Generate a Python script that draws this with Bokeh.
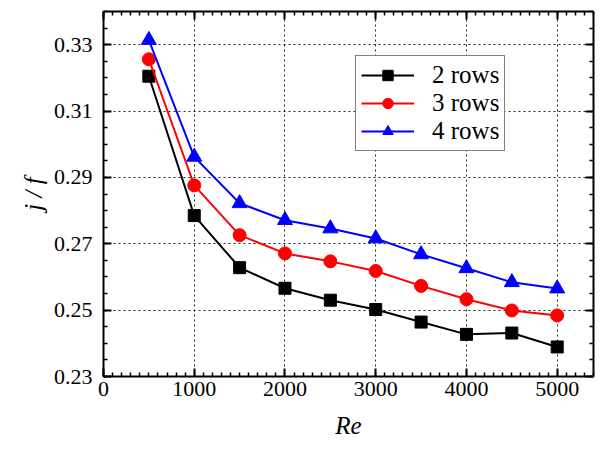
from bokeh.plotting import figure
from bokeh.models import LinearAxis, Range1d, FixedTicker, Legend, PrintfTickFormatter
from bokeh.embed import file_html
from bokeh.resources import INLINE

re_vals = [500, 1000, 1500, 2000, 2500, 3000, 3500, 4000, 4500, 5000]
rows2 = [0.3205, 0.2785, 0.2628, 0.2566, 0.2530, 0.2502, 0.2464, 0.2427, 0.2431, 0.2389]
rows3 = [0.3256, 0.2876, 0.2726, 0.2671, 0.2647, 0.2618, 0.2573, 0.2533, 0.2499, 0.2484]
rows4 = [0.3314, 0.2962, 0.2822, 0.2771, 0.2746, 0.2716, 0.2668, 0.2626, 0.2584, 0.2565]
x_ticks = [0, 1000, 2000, 3000, 4000, 5000]
x_minor = [100 * i for i in range(55)]
y_ticks = [0.23, 0.25, 0.27, 0.29, 0.31, 0.33]
y_minor = [round(0.23 + 0.005 * i, 3) for i in range(23)]

FONT = "Liberation Serif"

p = figure(width=595, height=445, output_backend="svg", toolbar_location=None,
           x_range=Range1d(0, 5400), y_range=Range1d(0.23, 0.34),
           min_border_left=103, min_border_right=2, min_border_top=11, min_border_bottom=69)
p.background_fill_color = "white"
p.border_fill_color = "white"
p.outline_line_color = None

p.xaxis.ticker = FixedTicker(ticks=x_ticks, minor_ticks=x_minor)
p.yaxis.ticker = FixedTicker(ticks=y_ticks, minor_ticks=y_minor)
p.yaxis.formatter = PrintfTickFormatter(format="%.2f")

def style_ticks(ax):
    ax.axis_line_width = 2
    ax.axis_line_color = "black"
    ax.major_tick_in = 8
    ax.major_tick_out = 0
    ax.minor_tick_in = 4
    ax.minor_tick_out = 0
    ax.major_tick_line_width = 2
    ax.minor_tick_line_width = 1.5
    ax.major_tick_line_color = "black"
    ax.minor_tick_line_color = "black"

for ax in [p.xaxis[0], p.yaxis[0]]:
    style_ticks(ax)
    ax.major_label_text_font = FONT
    ax.major_label_text_font_size = "22px"
    ax.major_label_text_color = "black"
    ax.axis_label_text_font = FONT
    ax.axis_label_text_font_size = "25px"
    ax.axis_label_text_font_style = "italic"
    ax.axis_label_text_color = "black"

p.xaxis.axis_label = "Re"
p.yaxis.axis_label = "j / f"
p.xaxis.major_label_standoff = 5
p.xaxis.axis_label_standoff = 13
p.yaxis.major_label_standoff = 11
p.yaxis.axis_label_standoff = 4

# mirrored ticks on top and right (no labels)
right = LinearAxis(ticker=FixedTicker(ticks=y_ticks, minor_ticks=y_minor),
                   major_label_overrides={t: "" for t in y_ticks})
top = LinearAxis(ticker=FixedTicker(ticks=x_ticks, minor_ticks=x_minor),
                 major_label_overrides={t: "" for t in x_ticks})
for ax in [right, top]:
    style_ticks(ax)
    ax.major_label_standoff = 0
    ax.major_label_text_font_size = "1px"
p.add_layout(right, "right")
p.add_layout(top, "above")

p.xgrid.ticker = FixedTicker(ticks=x_ticks)
p.ygrid.ticker = FixedTicker(ticks=y_ticks)
for g in [p.xgrid[0], p.ygrid[0]]:
    g.grid_line_color = "black"
    g.grid_line_dash = "2 3"
    g.grid_line_width = 1
    g.grid_line_alpha = 0.85

series = [
    ("2 rows", rows2, "black", "square", 12),
    ("3 rows", rows3, "red", "circle", 13),
    ("4 rows", rows4, "blue", "triangle", 15),
]
items = []
for label, ys, color, marker, size in series:
    l = p.line(re_vals, ys, line_color=color, line_width=2)
    s = p.scatter(re_vals, ys, marker=marker, size=size, fill_color=color, line_color=color)
    items.append((label, [l, s]))

legend = Legend(items=items, location=(252, 225))
legend.label_text_font = FONT
legend.label_text_font_size = "25px"
legend.label_text_color = "black"
legend.border_line_color = "black"
legend.border_line_width = 1
legend.glyph_width = 53
legend.glyph_height = 26
legend.label_height = 27
legend.spacing = 0
legend.padding = 5
legend.margin = 0
legend.label_standoff = 18
legend.background_fill_alpha = 1
p.add_layout(legend, "center")

open("out.html", "w").write(file_html(p, INLINE))
